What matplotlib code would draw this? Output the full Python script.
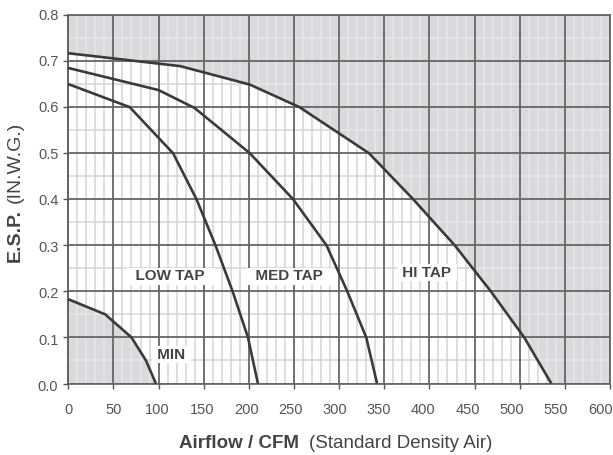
import numpy as np
import matplotlib
matplotlib.use('Agg')
import matplotlib.pyplot as plt
from matplotlib.transforms import blended_transform_factory

plt.rcParams['font.family'] = ['Liberation Sans', 'DejaVu Sans']

# ---- data ----
hi_x = [0, 124, 201, 256, 333, 382, 428, 468, 505, 535]
hi_y = [0.717, 0.689, 0.649, 0.600, 0.500, 0.400, 0.300, 0.200, 0.100, 0.0]
med_x = [0, 100, 140, 201, 249, 286, 309, 330, 342]
med_y = [0.685, 0.637, 0.598, 0.500, 0.400, 0.300, 0.200, 0.100, 0.0]
low_x = [0, 68, 116, 142, 163, 182, 199, 210]
low_y = [0.650, 0.600, 0.500, 0.400, 0.300, 0.200, 0.100, 0.0]
min_x = [0, 41, 70, 86, 97]
min_y = [0.183, 0.150, 0.100, 0.050, 0.0]

x_ticks = [0, 50, 100, 150, 200, 250, 300, 350, 400, 450, 500, 550, 600]
x_tick_labels = [str(v) for v in x_ticks]
y_ticks = [0.0, 0.1, 0.2, 0.3, 0.4, 0.5, 0.6, 0.7, 0.8]
y_tick_labels = ['0.0', '0.1', '0.2', '0.3', '0.4', '0.5', '0.6', '0.7', '0.8']

curve_labels = ['LOW TAP', 'MED TAP', 'HI TAP', 'MIN']
curve_label_x = [113, 245, 397, 114]
curve_label_y = [0.233, 0.233, 0.240, 0.062]

# ---- styling ----
W, H = 613, 455
fill_color = '#d9dadd'
curve_color = '#3a3a3a'
major_color = '#666666'
minor_color = '#d4d4d4'
minor_in_fill = '#e8e8e9'
text_color = '#444444'
tick_text_color = '#555555'
label_side_pad = [2, 2, 1, 1]   # blank padding (in spaces) of each label box

fig = plt.figure(figsize=(W / 100, H / 100), dpi=100)
x0, x1, ytop, ybot = 68.3, 610.0, 15.0, 383.5
ax = fig.add_axes([x0 / W, 1 - ybot / H, (x1 - x0) / W, (ybot - ytop) / H])
ax.set_xlim(0, 600)
ax.set_ylim(0, 0.8)

# shaded regions
up = ax.fill_between(hi_x + [600], hi_y + [0.0], 0.8, color=fill_color, lw=0, zorder=1)
mn = ax.fill_between(min_x, 0, min_y, color=fill_color, lw=0, zorder=1)

# minor grid
minor_x = [v for v in np.arange(10, 600, 10) if v % 50 != 0]
minor_y = [0.05, 0.15, 0.25, 0.35, 0.45, 0.55, 0.65, 0.75]
ax.vlines(minor_x, 0, 0.8, color=minor_color, lw=1.1, zorder=0.5)
ax.hlines(minor_y, 0, 600, color=minor_color, lw=1.1, zorder=0.5)
for poly in (up, mn):
    path = poly.get_paths()[0]
    v = ax.vlines(minor_x, 0, 0.8, color=minor_in_fill, lw=1.1, zorder=1.2)
    h = ax.hlines(minor_y, 0, 600, color=minor_in_fill, lw=1.1, zorder=1.2)
    v.set_clip_path(path, ax.transData)
    h.set_clip_path(path, ax.transData)

# major grid
ax.set_xticks(x_ticks)
ax.set_yticks(y_ticks)
ax.set_axisbelow(False)
ax.grid(True, which='major', color=major_color, lw=1.3, zorder=2)

# curves
for xs, ys in ((hi_x, hi_y), (med_x, med_y), (low_x, low_y), (min_x, min_y)):
    ax.plot(xs, ys, color=curve_color, lw=1.9, zorder=3, solid_capstyle='butt')

# curve labels
for lab, lx, ly, p in zip(curve_labels, curve_label_x, curve_label_y, label_side_pad):
    padded = ' ' * p + lab + ' ' * p
    ax.text(lx, ly, padded, ha='center', va='center', fontsize=11, fontweight='bold',
            color=text_color, zorder=4,
            bbox=dict(boxstyle='square,pad=0.1', fc='white', ec='none'))

# spines & ticks
for s in ax.spines.values():
    s.set_color('#6a6a6a')
    s.set_linewidth(1.3)
ax.spines['left'].set_color('#555555')
ax.tick_params(direction='out', length=3.5, width=1.0, color='#555555',
               labelbottom=False, labelleft=False)

# tick labels (positioned as in reference)
tx = blended_transform_factory(ax.transData, ax.transAxes)
for v, lab in zip(x_ticks, x_tick_labels):
    ax.text(0.77 + v * 0.9807, -0.0836, lab, transform=tx, ha='center', va='baseline',
            fontsize=10.5, color=tick_text_color, clip_on=False)
ty = blended_transform_factory(ax.transAxes, ax.transData)
for v, lab in zip(y_ticks, y_tick_labels):
    ax.text(-0.0185, -0.0083 + v * 1.009, lab, transform=ty, ha='right', va='center',
            fontsize=10.5, color=tick_text_color, clip_on=False)

# axis titles
fig.text(299 / W, 1 - 448 / H, 'Airflow / CFM', ha='right', va='baseline',
         fontsize=13.5, fontweight='bold', color=text_color)
fig.text(309 / W, 1 - 448 / H, '(Standard Density Air)', ha='left', va='baseline',
         fontsize=13.5, color=text_color)
fig.text(20 / W, 1 - 209 / H, 'E.S.P.', rotation=90, rotation_mode='anchor',
         ha='right', va='baseline', fontsize=14, fontweight='bold', color=text_color)
fig.text(20 / W, 1 - 203 / H, '(IN.W.G.)', rotation=90, rotation_mode='anchor',
         ha='left', va='baseline', fontsize=14, color=text_color)

fig.savefig('out.png', dpi=100)
